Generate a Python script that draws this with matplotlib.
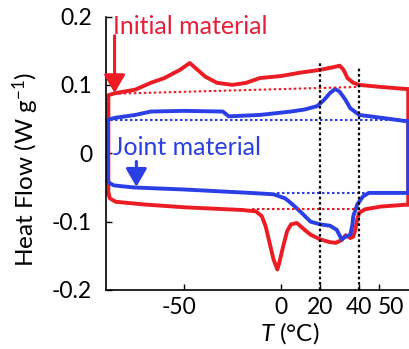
import matplotlib
matplotlib.use("Agg")
import matplotlib.pyplot as plt
import matplotlib.transforms as mtransforms

plt.rcParams['font.family'] = ['Lato', 'DejaVu Sans']
plt.rcParams['mathtext.fontset'] = 'custom'
plt.rcParams['mathtext.rm'] = 'Lato'
plt.rcParams['mathtext.it'] = 'Lato:italic'
plt.rcParams['axes.unicode_minus'] = False

RED = '#ec1c24'
BLUE = '#2b3fe6'

# initial material, heating run (upper branch), T in degC, heat flow in W/g
red_heat_T = [-88.8, -88.8, -85, -75, -67, -60, -52, -47, -43, -39, -33, -25, -18, -11,
              0, 10, 20, 27, 30, 32, 34, 37, 40, 51, 64, 65.2, 65.2]
red_heat_hf = [-0.060, 0.085, 0.088, 0.093, 0.103, 0.110, 0.122, 0.132, 0.122, 0.112, 0.103,
               0.100, 0.103, 0.110, 0.113, 0.118, 0.122, 0.126, 0.128, 0.122, 0.110, 0.103,
               0.100, 0.097, 0.094, 0.094, -0.075]

# initial material, cooling run (lower branch)
red_cool_T = [65.2, 51, 43, 40, 39, 38, 37, 35.5, 33, 31, 28, 25, 20, 15, 12, 8, 5, 3, 1,
              -1, -2, -4, -6, -8, -10, -13, -20, -35, -50, -70, -85, -88, -88.8]
red_cool_hf = [-0.075, -0.078, -0.082, -0.087, -0.097, -0.112, -0.122, -0.124, -0.120, -0.127,
               -0.131, -0.130, -0.126, -0.119, -0.112, -0.102, -0.104, -0.114, -0.136,
               -0.160, -0.170, -0.155, -0.131, -0.107, -0.092, -0.085, -0.083, -0.081,
               -0.079, -0.075, -0.071, -0.066, -0.058]

# joint material, heating run
blue_heat_T = [-89.2, -89.2, -85, -75, -67, -50, -30, -27, -11, 5, 12, 18.5, 22, 25, 27.7,
               30, 33, 35.4, 40, 51, 64, 65.2, 65.2]
blue_heat_hf = [-0.040, 0.049, 0.052, 0.056, 0.061, 0.062, 0.061, 0.054, 0.056, 0.061, 0.064,
                0.069, 0.078, 0.088, 0.094, 0.090, 0.078, 0.066, 0.056, 0.052, 0.047, 0.047,
                -0.058]

# joint material, cooling run
blue_cool_T = [65.2, 45, 42, 39, 37, 36.5, 35.5, 33, 31, 28.5, 25, 20, 15, 11.5, 7, 4.6, 2,
               -4, -16, -50, -76, -86, -88.5, -89.2]
blue_cool_hf = [-0.058, -0.058, -0.063, -0.075, -0.092, -0.105, -0.119, -0.122, -0.126,
                -0.112, -0.106, -0.104, -0.100, -0.090, -0.078, -0.072, -0.066, -0.060,
                -0.058, -0.053, -0.050, -0.047, -0.043, -0.040]

# dotted baselines
red_base_up_T = [-86, 39.5]
red_base_up_hf = [0.087, 0.097]
red_base_lo_T = [-15, 39.5]
red_base_lo_hf = [-0.081, -0.081]
blue_base_up_T = [-88, 65]
blue_base_up_hf = [0.049, 0.049]
blue_base_lo_T = [-2, 65]
blue_base_lo_hf = [-0.058, -0.058]

# vertical markers at 20 and 40 degC
vline_T = [20, 40]
vline_top = [0.135, 0.125]

xticks = [-50, 0, 20, 40, 50]
xtick_labels = ['-50', '0', '20', '40', '50']
yticks = [-0.2, -0.1, 0, 0.1, 0.2]
ytick_labels = ['-0.2', '-0.1', '0', '0.1', '0.2']

fig = plt.figure(figsize=(4.09, 3.49), dpi=100)
ax = fig.add_axes([106 / 409, 1 - 290 / 349, 1 - 106 / 409, 273.5 / 349])

lw = 2.8
ax.plot(red_heat_T, red_heat_hf, color=RED, lw=lw, solid_joinstyle='round')
ax.plot(red_cool_T, red_cool_hf, color=RED, lw=lw, solid_joinstyle='round')
ax.plot(blue_heat_T, blue_heat_hf, color=BLUE, lw=lw, solid_joinstyle='round')
ax.plot(blue_cool_T, blue_cool_hf, color=BLUE, lw=lw, solid_joinstyle='round')

dot = (0, (1.2, 1.2))
ax.plot(red_base_up_T, red_base_up_hf, color=RED, lw=1.5, ls=dot)
ax.plot(red_base_lo_T, red_base_lo_hf, color=RED, lw=1.5, ls=dot)
ax.plot(blue_base_up_T, blue_base_up_hf, color=BLUE, lw=1.5, ls=dot)
ax.plot(blue_base_lo_T, blue_base_lo_hf, color=BLUE, lw=1.5, ls=dot)

for t, top in zip(vline_T, vline_top):
    ax.plot([t, t], [-0.2, top], color='black', lw=1.6, ls=dot)

# labels and arrows
ax.text(-86.5, 0.186, 'Initial material', color='#e5203a', fontsize=18, va='center', ha='left')
ax.annotate('', xy=(-85.6, 0.088), xytext=(-85.6, 0.172),
            arrowprops=dict(arrowstyle='-|>,head_length=0.55,head_width=0.32',
                            mutation_scale=20, color=RED, lw=2.2, shrinkA=0, shrinkB=0))
ax.text(-86.5, 0.009, 'Joint material', color=BLUE, fontsize=18, va='center', ha='left')
ax.annotate('', xy=(-74.4, -0.049), xytext=(-74.4, -0.012),
            arrowprops=dict(arrowstyle='-|>,head_length=0.55,head_width=0.32',
                            mutation_scale=20, color=BLUE, lw=2.2, shrinkA=0, shrinkB=0))

ax.set_xlim(-90, 65.6)
ax.set_ylim(-0.2, 0.2)
ax.set_xticks(xticks)
ax.set_xticklabels(xtick_labels)
ax.set_yticks(yticks)
ax.set_yticklabels(ytick_labels)
ax.tick_params(direction='in', length=4, width=1, labelsize=16.5)
ax.tick_params(axis='y', pad=10)
ax.tick_params(axis='x', pad=5)

# nudge -50 and 50 labels like in the original
for lab in ax.get_xticklabels():
    if lab.get_text() == '50':
        lab.set_transform(lab.get_transform() + mtransforms.ScaledTranslation(0.12, 0, fig.dpi_scale_trans))
    elif lab.get_text() == '-50':
        lab.set_transform(lab.get_transform() + mtransforms.ScaledTranslation(-0.05, 0, fig.dpi_scale_trans))

for side in ['top', 'right']:
    ax.spines[side].set_visible(False)
for side in ['left', 'bottom']:
    ax.spines[side].set_linewidth(1.2)

ax.set_ylabel(r'Heat Flow (W g$^{\mathregular{-1}}$)', fontsize=17.5)
ax.yaxis.set_label_coords(-0.215, 0.44)
ax.set_xlabel(r'$T$ (°C)', fontsize=17.5)
ax.xaxis.set_label_coords(0.607, -0.11)

fig.savefig('out.png', dpi=100)
